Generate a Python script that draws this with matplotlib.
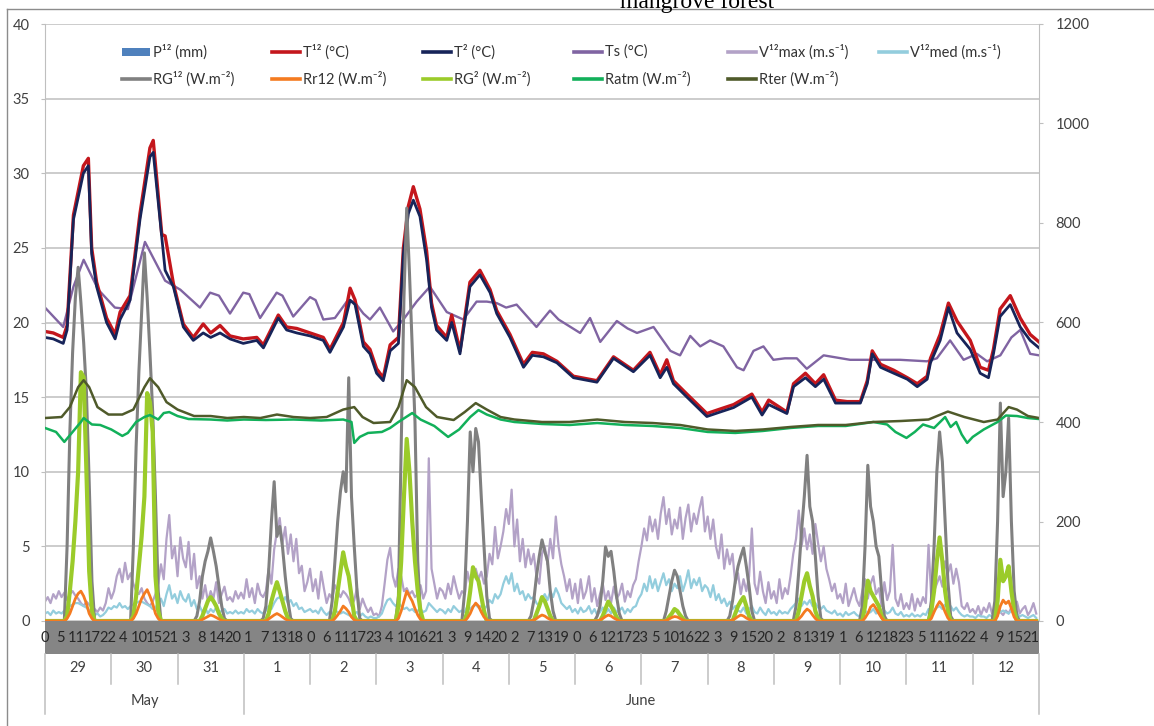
import numpy as np
import matplotlib
matplotlib.use('agg')
import matplotlib.pyplot as plt
from matplotlib.lines import Line2D
from matplotlib.patches import Rectangle

plt.rcParams['font.family'] = ['Lato', 'DejaVu Sans']

# ---- data (hours counted from 29 May 00:00) ----
day_labels = ['29', '30', '31', '1', '2', '3', '4', '5', '6', '7', '8', '9', '10', '11', '12']
month_labels = ['May', 'June']
month_days = [3, 12]
hour_labels = ['0', '5', '11', '17', '22', '4', '10', '15', '21', '3', '8', '14', '20',
               '1', '7', '13', '18', '0', '6', '11', '17', '23', '4', '10', '16', '21',
               '3', '9', '14', '20', '2', '7', '13', '19', '0', '6', '12', '17', '23',
               '5', '10', '16', '22', '3', '9', '15', '20', '2', '8', '13', '19',
               '1', '6', '12', '18', '23', '5', '11', '16', '22', '4', '9', '15', '21']

p12_mm = [0, 0, 0, 0, 0, 0, 0, 0, 0, 0, 0, 0, 0, 0, 0]

t_temp = [0, 3, 6.6, 8, 10.3, 13.9, 15.7, 16.9, 18.7, 22.3, 25.4, 27.2, 30.8, 34.4, 38, 39.2,
          42.3, 43.5, 46.5, 50.1, 53.7, 57.3, 60, 63.4, 67, 71.8, 76.7, 79.1, 84.5, 87.5,
          91.2, 96, 100.8, 103.2, 108.1, 110.5, 112.3, 115.3, 117.7, 120.1, 122.5, 125, 128,
          129.8, 131.6, 133.4, 135.8, 138.2, 140, 141.8, 145.5, 147.3, 150.3, 153.9, 157.5,
          161.2, 163.6, 168.4, 173.3, 176.5, 180.5, 185.4, 191.4, 199.9, 205.9, 213.1, 219.1,
          222.8, 225.2, 227.6, 232.5, 239.7, 244.5, 249.4, 256, 259.7, 262.1, 268.7, 271.1,
          275.4, 279, 282, 286.3, 290.5, 295.3, 297.8, 299.6, 302.6, 307.4, 312.3, 315.9,
          319.5, 320.7, 324.2, 327.2, 330.3, 335.1, 338.7, 341.7, 343.5, 345.9, 349.6,
          353.2, 356.8, 360]
t2_c = [19.0, 18.9, 18.6, 19.5, 26.9, 30.0, 30.5, 24.6, 22.4, 20.0, 18.9, 20.2, 21.5, 26.9,
        31.1, 31.4, 25.7, 23.5, 22.4, 19.7, 18.8, 19.3, 19.0, 19.3, 18.9, 18.6, 18.8, 18.3,
        20.3, 19.5, 19.3, 19.1, 18.8, 18.0, 19.7, 21.5, 21.2, 18.4, 17.9, 16.6, 16.1, 18.1,
        18.6, 24.6, 27.3, 28.2, 27.1, 24.2, 21.0, 19.5, 18.8, 20.0, 17.9, 22.4, 23.2, 22.0,
        20.6, 19.0, 17.0, 17.8, 17.7, 17.3, 16.3, 16.0, 17.6, 16.7, 17.8, 16.3, 17.0, 15.9,
        15.0, 13.7, 14.0, 14.3, 15.0, 13.8, 14.5, 13.9, 15.7, 16.3, 15.7, 16.2, 14.6, 14.6,
        14.6, 15.9, 17.9, 17.0, 16.6, 16.2, 15.7, 16.2, 17.3, 18.8, 21.0, 19.3, 18.2, 16.6,
        16.3, 17.9, 20.4, 21.2, 19.7, 18.8, 18.3]
t12_c = [19.4, 19.3, 19.0, 19.8, 27.2, 30.5, 31.0, 25.0, 22.7, 20.3, 19.2, 20.7, 21.8, 27.3,
         31.7, 32.2, 25.9, 25.8, 22.6, 19.9, 19.0, 19.9, 19.3, 19.8, 19.1, 18.9, 19.0, 18.5,
         20.5, 19.7, 19.6, 19.3, 19.0, 18.2, 20.0, 22.3, 21.5, 18.7, 18.2, 16.9, 16.3, 18.5,
         19.0, 25.0, 27.8, 29.1, 27.6, 24.8, 21.3, 19.8, 19.0, 20.5, 18.1, 22.7, 23.5, 22.2,
         20.8, 19.2, 17.2, 18.0, 17.9, 17.4, 16.4, 16.1, 17.7, 16.8, 18.0, 16.5, 17.5, 16.1,
         15.2, 13.9, 14.2, 14.5, 15.2, 14.0, 14.8, 14.0, 15.9, 16.6, 15.9, 16.5, 14.8, 14.7,
         14.7, 16.1, 18.1, 17.2, 16.8, 16.3, 15.9, 16.4, 17.6, 19.2, 21.3, 20.1, 18.8, 17.0,
         16.8, 18.2, 20.9, 21.8, 20.3, 19.2, 18.7]

t_ts = [0, 6.6, 10.3, 14, 19.3, 25.3, 30, 36.2, 43.5, 49, 56.1, 59.8, 63, 67, 71.8, 74,
        77.9, 83.9, 86, 89.9, 96, 98, 100.8, 105, 109.3, 112, 115.3, 117.7, 121.3, 126.1,
        129.8, 134.6, 139.4, 145.5, 151.5, 156.3, 160, 163.6, 167, 170.8, 178, 182.9, 186,
        193.8, 197.4, 201.1, 207.1, 211, 214.4, 220.4, 226.5, 230, 233.7, 237.3, 240.9,
        245.7, 250.6, 253, 256.6, 260.2, 263.8, 268, 272.3, 275.9, 282, 291.6, 303.7, 309.7,
        319.4, 323, 327.8, 332.7, 337.5, 341.2, 346, 350, 353.2, 356.8, 360]
ts_c = [21.0, 19.7, 22.4, 24.2, 22.2, 21.0, 20.9, 25.4, 22.8, 22.2, 21.0, 22.0, 21.8, 20.6,
        22.0, 21.9, 20.3, 22.0, 21.8, 20.4, 21.7, 21.5, 20.2, 20.3, 21.4, 21.4, 20.6, 20.2,
        21.0, 19.4, 20.2, 21.4, 22.4, 20.7, 20.2, 21.4, 21.4, 21.3, 21.0, 21.2, 19.7, 20.8,
        20.2, 19.3, 20.3, 18.7, 20.1, 19.6, 19.3, 19.7, 18.1, 17.8, 19.1, 18.4, 18.8, 18.4,
        17.0, 16.8, 18.1, 18.4, 17.5, 17.6, 17.6, 16.9, 17.8, 17.5, 17.5, 17.5, 17.4, 17.6,
        18.8, 17.5, 17.9, 17.4, 17.8, 19.0, 19.5, 17.9, 17.8]

# wind, m/s, hourly (one row per day, hours 0..23)
v12max = [
    [1.3, 1.6, 1.2, 1.8, 1.5, 2.0, 1.6, 1.9, 1.4, 1.8, 2.0, 1.7, 1.5, 1.2, 1.0, 1.3, 1.1, 0.9, 0.8, 0.6, 0.9, 0.7, 1.2, 2.2],
    [1.5, 2.0, 3.0, 3.5, 2.6, 3.9, 2.8, 3.2, 2.5, 2.0, 1.8, 2.2, 1.5, 1.2, 1.0, 1.3, 1.8, 2.5, 3.8, 2.8, 5.5, 7.1, 4.2, 5.0],
    [3.0, 5.6, 4.2, 3.6, 5.3, 2.8, 4.5, 2.2, 3.0, 1.5, 2.4, 1.3, 2.0, 1.5, 2.6, 1.2, 1.8, 2.3, 1.4, 1.6, 1.3, 2.0, 1.5, 1.9],
    [1.5, 2.8, 1.6, 2.2, 1.2, 2.5, 1.8, 1.6, 2.0, 3.5, 2.5, 4.8, 6.0, 6.9, 5.2, 6.3, 4.5, 5.8, 4.0, 5.5, 3.2, 3.7, 2.0, 2.6],
    [3.5, 2.0, 2.8, 1.5, 3.3, 2.2, 1.2, 1.8, 1.5, 2.4, 2.0, 1.6, 2.0, 1.8, 1.5, 1.0, 1.4, 2.2, 0.8, 1.5, 1.0, 0.6, 0.9, 0.4],
    [0.5, 0.3, 1.0, 2.5, 4.1, 4.9, 3.0, 2.3, 3.5, 3.0, 2.0, 2.2, 1.8, 2.0, 1.6, 1.8, 2.4, 1.5, 2.0, 10.9, 3.5, 2.5, 1.5, 2.2],
    [2.0, 1.5, 2.5, 1.8, 3.0, 2.2, 1.5, 2.0, 1.8, 3.3, 2.5, 3.0, 3.5, 2.8, 3.3, 2.5, 3.0, 4.5, 3.8, 6.3, 4.2, 5.0, 6.0, 7.5],
    [6.5, 8.8, 5.0, 6.8, 4.0, 5.5, 3.6, 4.8, 3.8, 4.5, 3.0, 2.5, 4.5, 5.0, 3.8, 5.5, 4.2, 7.0, 5.0, 3.8, 3.0, 2.0, 2.8, 1.5],
    [2.5, 1.2, 2.8, 1.5, 2.0, 3.0, 1.3, 2.2, 1.0, 1.8, 2.5, 1.4, 2.0, 1.2, 2.3, 1.5, 1.8, 2.5, 1.3, 2.0, 1.6, 2.4, 2.8, 4.0],
    [5.0, 6.2, 5.4, 7.0, 6.0, 6.8, 5.5, 7.2, 8.3, 6.5, 7.5, 5.8, 6.8, 6.2, 7.6, 5.5, 6.9, 7.8, 6.0, 7.2, 6.5, 7.5, 8.3, 6.0],
    [7.0, 5.5, 6.8, 5.0, 4.2, 5.8, 3.5, 4.8, 3.8, 4.5, 2.5, 3.2, 1.8, 2.8, 2.0, 3.0, 6.2, 2.5, 1.8, 3.3, 2.0, 1.2, 2.6, 1.5],
    [2.0, 1.2, 2.8, 1.5, 2.2, 1.8, 3.0, 4.5, 5.5, 7.4, 5.0, 6.2, 4.8, 5.8, 4.5, 6.5, 5.2, 4.0, 5.0, 3.5, 2.8, 2.0, 2.5, 1.5],
    [1.8, 1.2, 2.5, 1.0, 1.6, 2.2, 1.4, 1.0, 2.0, 2.8, 1.5, 2.5, 3.0, 1.8, 2.2, 1.0, 2.6, 1.4, 2.0, 5.1, 1.5, 1.0, 1.8, 0.8],
    [1.2, 0.8, 1.8, 0.7, 1.5, 1.0, 1.6, 1.2, 5.1, 1.5, 2.0, 2.5, 3.0, 2.3, 4.0, 3.2, 3.8, 2.5, 3.5, 2.6, 1.0, 0.8, 1.2, 0.6],
    [0.8, 0.5, 1.0, 0.4, 0.9, 0.6, 1.2, 0.5, 0.8, 1.0, 0.6, 0.4, 0.7, 0.5, 0.9, 0.6, 1.3, 0.5, 0.8, 1.0, 0.4, 0.7, 1.2, 0.5],
]
v12med = [
    [0.5, 0.6, 0.4, 0.7, 0.5, 0.6, 0.5, 0.7, 0.8, 1.0, 1.1, 1.2, 1.2, 1.1, 1.0, 0.9, 0.7, 0.5, 0.4, 0.5, 0.3, 0.4, 0.6, 0.9],
    [0.8, 1.0, 0.9, 1.2, 0.9, 1.0, 0.8, 1.0, 1.1, 1.2, 1.3, 1.3, 1.2, 1.1, 1.0, 0.8, 0.9, 1.2, 1.5, 1.0, 1.8, 2.4, 1.5, 1.8],
    [1.2, 2.0, 1.5, 1.3, 1.8, 1.0, 1.4, 0.8, 1.0, 0.6, 0.9, 0.5, 0.8, 0.6, 0.9, 0.5, 0.7, 0.8, 0.5, 0.6, 0.5, 0.7, 0.5, 0.6],
    [0.5, 0.8, 0.6, 0.7, 0.5, 0.8, 0.6, 0.5, 0.7, 1.0, 0.8, 1.2, 1.5, 1.6, 1.3, 1.6, 1.2, 1.4, 1.0, 1.2, 0.8, 0.9, 0.6, 0.7],
    [0.8, 0.6, 0.7, 0.5, 0.9, 0.6, 0.4, 0.6, 0.5, 0.7, 0.6, 0.5, 0.6, 0.5, 0.4, 0.3, 0.5, 0.6, 0.3, 0.5, 0.3, 0.2, 0.3, 0.2],
    [0.2, 0.3, 0.5, 1.0, 1.4, 1.5, 1.2, 1.0, 1.2, 1.0, 0.8, 0.9, 0.7, 0.8, 0.6, 0.7, 0.8, 0.6, 0.7, 1.2, 1.0, 0.8, 0.6, 0.8],
    [0.7, 0.5, 0.8, 0.6, 1.0, 0.8, 0.6, 0.7, 0.6, 1.0, 0.8, 1.0, 1.1, 0.9, 1.0, 0.8, 1.0, 1.4, 1.2, 1.8, 1.5, 1.8, 2.5, 3.0],
    [2.5, 3.2, 2.0, 2.5, 1.8, 2.0, 1.4, 1.8, 1.5, 1.6, 1.2, 1.0, 1.5, 1.8, 1.4, 2.0, 1.6, 2.2, 1.8, 1.2, 1.0, 0.8, 1.0, 0.6],
    [0.8, 0.5, 0.9, 0.6, 0.7, 1.0, 0.5, 0.8, 0.4, 0.6, 0.9, 0.5, 0.8, 0.5, 0.9, 0.6, 0.7, 0.9, 0.5, 0.8, 0.6, 0.9, 1.0, 1.5],
    [1.8, 2.5, 2.0, 3.0, 2.2, 2.8, 2.0, 2.6, 3.2, 2.4, 2.8, 2.0, 2.5, 2.2, 3.0, 2.0, 2.6, 3.4, 2.2, 2.8, 2.4, 2.9, 2.0, 2.4],
    [2.2, 1.6, 2.4, 1.4, 1.8, 1.2, 1.5, 1.0, 1.3, 0.8, 1.0, 0.7, 0.6, 0.9, 0.5, 0.8, 1.0, 0.6, 0.5, 0.9, 0.6, 0.4, 0.8, 0.5],
    [0.6, 0.4, 0.7, 0.5, 0.6, 0.5, 0.8, 1.0, 1.2, 1.5, 1.0, 1.3, 1.1, 1.4, 1.0, 1.2, 0.9, 0.8, 1.0, 0.7, 0.6, 0.5, 0.7, 0.4],
    [0.5, 0.3, 0.6, 0.4, 0.5, 0.6, 0.4, 0.3, 0.5, 0.7, 0.5, 0.6, 0.8, 0.5, 0.6, 0.4, 0.7, 0.5, 0.6, 0.9, 0.5, 0.4, 0.6, 0.3],
    [0.4, 0.3, 0.5, 0.3, 0.4, 0.3, 0.5, 0.4, 0.8, 0.6, 0.7, 0.9, 1.0, 0.8, 1.1, 0.9, 1.0, 0.7, 0.9, 0.6, 0.4, 0.3, 0.4, 0.3],
    [0.3, 0.2, 0.4, 0.3, 0.3, 0.2, 0.4, 0.3, 0.4, 0.5, 0.6, 0.7, 0.6, 0.5, 0.7, 0.4, 0.5, 0.3, 0.4, 0.3, 0.2, 0.3, 0.4, 0.2],
]

# radiation, W/m2, daylight hours 5..19 of each day (night values are 0)
rg12 = [
    [0, 0, 0, 150, 380, 540, 650, 711, 640, 560, 460, 280, 80, 0, 0],
    [0, 0, 0, 150, 350, 500, 620, 740, 650, 540, 420, 250, 60, 0, 0],
    [0, 0, 10, 40, 90, 120, 140, 167, 140, 110, 70, 30, 5, 0, 0],
    [0, 0, 5, 30, 100, 200, 280, 170, 190, 150, 90, 40, 5, 0, 0],
    [0, 0, 0, 40, 120, 200, 260, 300, 260, 489, 250, 150, 60, 5, 0],
    [0, 0, 0, 50, 350, 650, 830, 700, 550, 400, 120, 10, 0, 0, 0],
    [0, 0, 0, 60, 200, 380, 300, 387, 360, 250, 150, 50, 5, 0, 0],
    [0, 0, 0, 10, 40, 90, 130, 163, 140, 120, 60, 20, 0, 0, 0],
    [0, 0, 0, 10, 30, 80, 149, 130, 140, 100, 50, 15, 0, 0, 0],
    [0, 0, 0, 0, 20, 50, 80, 102, 90, 60, 30, 10, 0, 0, 0],
    [0, 0, 0, 10, 40, 80, 110, 130, 147, 110, 70, 20, 0, 0, 0],
    [0, 0, 0, 30, 100, 180, 250, 333, 230, 200, 130, 50, 5, 0, 0],
    [0, 0, 0, 30, 150, 313, 230, 200, 150, 130, 60, 10, 0, 0, 0],
    [0, 0, 0, 0, 40, 150, 300, 380, 320, 200, 80, 10, 0, 0, 0],
    [0, 0, 0, 40, 200, 438, 250, 300, 408, 200, 60, 10, 0, 0, 0],
]
rg2 = [
    [0, 0, 0, 10, 60, 120, 200, 300, 500, 490, 300, 100, 20, 0, 0],
    [0, 0, 0, 10, 50, 110, 170, 250, 458, 440, 380, 90, 20, 0, 0],
    [0, 0, 0, 0, 10, 25, 40, 48, 40, 30, 15, 5, 0, 0, 0],
    [0, 0, 0, 0, 15, 40, 60, 78, 60, 40, 20, 5, 0, 0, 0],
    [0, 0, 0, 0, 20, 60, 100, 138, 110, 90, 50, 10, 0, 0, 0],
    [0, 0, 0, 30, 120, 250, 366, 300, 200, 120, 60, 20, 0, 0, 0],
    [0, 0, 0, 0, 20, 60, 108, 90, 80, 50, 20, 0, 0, 0, 0],
    [0, 0, 0, 0, 0, 15, 30, 48, 40, 25, 10, 0, 0, 0, 0],
    [0, 0, 0, 0, 0, 10, 25, 39, 30, 20, 8, 0, 0, 0, 0],
    [0, 0, 0, 0, 0, 8, 15, 24, 20, 12, 5, 0, 0, 0, 0],
    [0, 0, 0, 0, 0, 15, 30, 40, 48, 30, 10, 0, 0, 0, 0],
    [0, 0, 0, 0, 20, 50, 80, 96, 70, 50, 20, 5, 0, 0, 0],
    [0, 0, 0, 0, 30, 81, 60, 50, 40, 30, 10, 0, 0, 0, 0],
    [0, 0, 0, 0, 20, 60, 120, 168, 120, 60, 20, 0, 0, 0, 0],
    [0, 0, 0, 0, 40, 123, 80, 90, 110, 60, 20, 0, 0, 0, 0],
]
rr12 = [
    [0, 0, 0, 5, 15, 30, 45, 55, 60, 50, 35, 15, 5, 0, 0],
    [0, 0, 0, 5, 15, 30, 45, 55, 63, 50, 35, 15, 5, 0, 0],
    [0, 0, 0, 0, 3, 6, 9, 12, 10, 7, 4, 1, 0, 0, 0],
    [0, 0, 0, 0, 4, 8, 12, 15, 12, 8, 4, 1, 0, 0, 0],
    [0, 0, 0, 0, 5, 12, 20, 30, 25, 18, 8, 2, 0, 0, 0],
    [0, 0, 0, 5, 20, 40, 60, 50, 40, 25, 12, 3, 0, 0, 0],
    [0, 0, 0, 0, 6, 15, 28, 36, 30, 18, 8, 2, 0, 0, 0],
    [0, 0, 0, 0, 2, 5, 9, 12, 10, 6, 3, 0, 0, 0, 0],
    [0, 0, 0, 0, 2, 5, 9, 12, 10, 6, 3, 0, 0, 0, 0],
    [0, 0, 0, 0, 1, 4, 7, 9, 8, 5, 2, 0, 0, 0, 0],
    [0, 0, 0, 0, 2, 5, 9, 12, 10, 6, 3, 0, 0, 0, 0],
    [0, 0, 0, 0, 4, 10, 18, 24, 20, 12, 5, 0, 0, 0, 0],
    [0, 0, 0, 0, 6, 15, 28, 33, 25, 15, 6, 0, 0, 0, 0],
    [0, 0, 0, 0, 5, 18, 30, 39, 32, 18, 6, 0, 0, 0, 0],
    [0, 0, 0, 0, 10, 30, 42, 35, 40, 25, 8, 0, 0, 0, 0],
]

t_rter = [0, 6, 9, 12, 14, 16, 19, 23, 28, 32, 36, 38, 41, 44, 48, 54, 60, 66, 72, 78, 84, 90,
          96, 102, 108, 112, 115, 119, 125, 128, 131, 134, 138, 142, 148, 152, 156, 160, 165,
          170, 180, 190, 200, 210, 220, 230, 240, 250, 260, 270, 280, 290, 300, 310, 320, 327,
          333, 340, 345, 349, 352, 356, 360]
rter = [408, 410, 430, 470, 484, 470, 430, 415, 415, 425, 470, 488, 470, 440, 425, 412, 412,
        408, 410, 408, 415, 410, 408, 410, 425, 430, 410, 398, 400, 430, 484, 470, 430, 410,
        404, 420, 438, 425, 410, 405, 400, 400, 405, 400, 398, 394, 385, 382, 385, 390, 394,
        394, 400, 402, 405, 421, 410, 400, 405, 430, 425, 412, 408]
t_ratm = [0, 4, 7, 10, 13, 14, 17, 20, 24, 28, 30, 33, 36, 38, 41, 43, 45, 48, 52, 60, 66, 72,
          80, 90, 100, 108, 111, 112, 114, 117, 122, 125, 128, 133, 136, 141, 146, 150, 154,
          157, 160, 165, 170, 180, 190, 200, 210, 220, 230, 240, 250, 260, 270, 280, 290, 300,
          305, 308, 312, 315, 318, 322, 326, 328, 330, 332, 334, 336, 340, 345, 348, 352, 356, 360]
ratm = [388, 380, 360, 380, 400, 408, 395, 394, 385, 372, 378, 400, 410, 414, 405, 418, 420,
        412, 406, 405, 403, 405, 404, 405, 403, 405, 400, 358, 370, 378, 380, 388, 400, 418,
        405, 392, 370, 385, 410, 424, 415, 405, 400, 396, 394, 398, 394, 392, 388, 380, 378,
        382, 388, 392, 392, 400, 395, 380, 368, 380, 395, 388, 410, 390, 400, 375, 358, 370,
        385, 400, 413, 412, 408, 406]

# colours
c_p12 = '#4F81BD'
c_t12 = '#C4161C'
c_t2 = '#172459'
c_ts = '#8064A2'
c_vmax = '#B3A2C7'
c_vmed = '#93CDDD'
c_rg12 = '#808080'
c_rr12 = '#F47B20'
c_rg2 = '#9BCB2A'
c_ratm = '#12B05A'
c_rter = '#4F5A2A'

W, H = 1154, 726


def fx(x):
    return x / W


def fy(y):
    return 1 - y / H


def day_series(rows):
    arr = np.zeros(24 * len(rows))
    for d, row in enumerate(rows):
        arr[d * 24 + 5:d * 24 + 20] = row
    return arr


t_hour = np.arange(24 * len(day_labels))

fig = plt.figure(figsize=(11.54, 7.26), dpi=100)
ax = fig.add_axes([fx(45), fy(621), fx(1039) - fx(45), fy(24) - fy(621)])
ax2 = ax.twinx()

# primary axis: temperatures and wind
ax.bar(np.arange(len(p12_mm)) * 24 + 12, p12_mm, width=6, color=c_p12)
ax.plot(t_hour, np.concatenate(v12max), color=c_vmax, lw=1.6)
ax.plot(t_hour, np.concatenate(v12med), color=c_vmed, lw=1.6)
ax.plot(t_ts, ts_c, color=c_ts, lw=1.7)
ax.plot(t_temp, t12_c, color=c_t12, lw=2.4)
ax.plot(t_temp, t2_c, color=c_t2, lw=2.0)

# secondary axis: radiation
ax2.plot(t_hour, day_series(rg12), color=c_rg12, lw=2.2)
ax2.plot(t_hour, day_series(rg2), color=c_rg2, lw=3.0)
ax2.plot(t_hour, day_series(rr12), color=c_rr12, lw=2.0)
ax2.plot(t_ratm, ratm, color=c_ratm, lw=1.8)
ax2.plot(t_rter, rter, color=c_rter, lw=1.8)

ax.set_xlim(0, 360)
ax.set_ylim(0, 40)
ax2.set_ylim(0, 1200)
ax.set_yticks(range(0, 41, 5))
ax2.set_yticks(range(0, 1201, 200))
ax.set_xticks([])
ax.grid(axis='y', color='#BFBFBF', lw=1.1)
ax.set_axisbelow(True)
for a in (ax, ax2):
    for s in ('top', 'bottom'):
        a.spines[s].set_visible(False)
ax.spines['right'].set_visible(False)
ax.spines['left'].set_color('#BFBFBF')
ax2.spines['left'].set_visible(False)
ax2.spines['right'].set_color('#BFBFBF')
ax.tick_params(axis='y', length=3, color='#BFBFBF', labelsize=10.5, pad=8, labelcolor='#404040')
ax2.tick_params(axis='y', length=3, color='#BFBFBF', labelsize=10.5, pad=9, labelcolor='#404040')

# category table under the plot
tab = fig.add_axes([fx(45), fy(716), fx(1039) - fx(45), fy(621) - fy(716)])
tab.set_xlim(0, 360)
tab.set_ylim(716, 621)
tab.axis('off')
tab.add_patch(Rectangle((0, 621), 360, 33, color='#858585', lw=0))
for k, lab in enumerate(hour_labels):
    tab.text(k * 17 / 3, 638, lab, ha='center', va='center', fontsize=10.5, color='#262626')
for d, lab in enumerate(day_labels):
    tab.text(d * 24 + 12, 668, lab, ha='center', va='center', fontsize=10.5, color='#404040')
edges = np.cumsum([0] + month_days) * 24
for d in range(len(day_labels) + 1):
    bottom = 714 if d * 24 in edges else 684
    tab.plot([d * 24, d * 24], [654, bottom], color='#BFBFBF', lw=1.1, clip_on=False)
for m, lab in enumerate(month_labels):
    tab.text((edges[m] + edges[m + 1]) / 2, 701, lab, ha='center', va='center',
             fontsize=10.5, color='#404040')

# legend drawn in two rows like the original
legend_rows = [
    [('bar', c_p12, 'P¹² (mm)'), ('line', c_t12, 'T¹² (°C)'), ('line', c_t2, 'T² (°C)'),
     ('line', c_ts, 'Ts (°C)'), ('line', c_vmax, 'V¹²max (m.s⁻¹)'), ('line', c_vmed, 'V¹²med (m.s⁻¹)')],
    [('line', c_rg12, 'RG¹² (W.m⁻²)'), ('line', c_rr12, 'Rr12 (W.m⁻²)'), ('line', c_rg2, 'RG² (W.m⁻²)'),
     ('line', c_ratm, 'Ratm (W.m⁻²)'), ('line', c_rter, 'Rter (W.m⁻²)')],
]
col_x = [122, 272, 423, 574, 728, 879]
row_y = [52, 79]
for r, row in enumerate(legend_rows):
    for c, (kind, col, lab) in enumerate(row):
        x0 = col_x[c]
        if kind == 'bar':
            fig.add_artist(Rectangle((fx(x0), fy(row_y[r] + 4)), fx(28), 8 / H, color=col, lw=0))
        else:
            fig.add_artist(Line2D([fx(x0), fx(x0 + 28)], [fy(row_y[r])] * 2, color=col, lw=2.6))
        fig.text(fx(x0 + 31), fy(row_y[r]), lab, ha='left', va='center', fontsize=10.5, color='#333333')

# title (cut off at the top in the original) and outer frame
fig.text(fx(697), fy(8), 'mangrove forest', ha='center', va='baseline', fontsize=17,
         family='Liberation Serif', color='#000000')
fig.add_artist(Line2D([fx(7), fx(7)], [fy(9), 0], color='#8C8C8C', lw=1))
fig.add_artist(Line2D([fx(7), 1], [fy(9), fy(9)], color='#8C8C8C', lw=1))

fig.savefig('out.png', dpi=100)
